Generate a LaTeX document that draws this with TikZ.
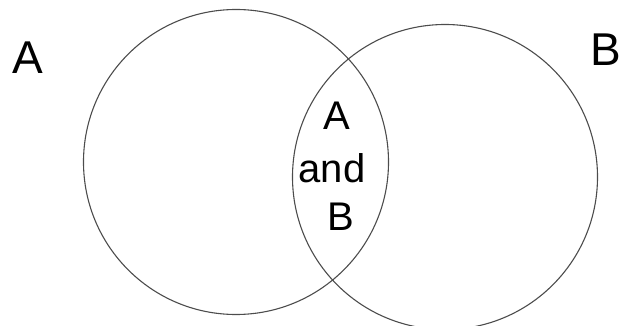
\documentclass[tikz,border=0pt]{standalone}
\usepackage{fontspec}
\setmainfont{Liberation Sans}

\begin{document}
\begin{tikzpicture}[
  x=1pt, y=-1pt,
  every node/.style={align=center},
  setcircle/.style={circle, draw=black!70, line width=1.1pt, inner sep=0pt,
                    minimum size=305pt},
  setlab/.style={font=\fontsize{46}{50}\selectfont, inner sep=0pt},
  midlab/.style={font=\fontsize{40}{44}\selectfont, inner sep=0pt}
]
\useasboundingbox (0,0) rectangle (624,326);

% Sets
\node[setcircle] (setA) at (236, 162) {};
\node[setcircle] (setB) at (445, 177) {};

% Set names
\node[setlab] (nameA) at (28, 58) {A};
\node[setlab] (nameB) at (606, 50) {B};

% Overlap
\node[midlab] (bothA)   at (337, 116) {A};
\node[midlab] (bothand) at (332, 168) {and};
\node[midlab] (bothB)   at (341, 217) {B};

\end{tikzpicture}
\end{document}
